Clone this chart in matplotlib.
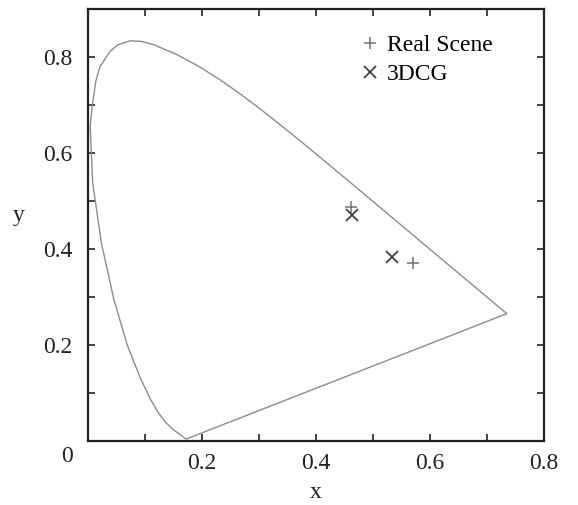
import numpy as np
import matplotlib
matplotlib.use("Agg")
import matplotlib.pyplot as plt
from matplotlib.ticker import MultipleLocator, FuncFormatter

# =========================
# Data: CIE 1931 spectral locus (380-700 nm) + closing purple line
# (a few extra points read off the picture near the peak)
# =========================
locus_x = [0.1741, 0.1740, 0.1738, 0.1736, 0.1733, 0.1730, 0.1726, 0.1721,
           0.1714, 0.1703, 0.1689, 0.1669, 0.1644, 0.1611, 0.1566, 0.1510,
           0.1440, 0.1355, 0.1241, 0.1096, 0.0913, 0.0687, 0.0454, 0.0235,
           0.0082, 0.0039, 0.0076, 0.0139, 0.0210, 0.0389, 0.0530, 0.0743,
           0.0940, 0.1142, 0.1547, 0.1929,
           0.2296, 0.2658, 0.3016, 0.3373, 0.3731, 0.4087, 0.4441, 0.4788,
           0.5125, 0.5448, 0.5752, 0.6029, 0.6270, 0.6482, 0.6658, 0.6801,
           0.6915, 0.7006, 0.7079, 0.7140, 0.7190, 0.7230, 0.7260, 0.7283,
           0.7300, 0.7311, 0.7320, 0.7327, 0.7334, 0.7347, 0.1741]
locus_y = [0.0050, 0.0050, 0.0049, 0.0049, 0.0048, 0.0048, 0.0048, 0.0048,
           0.0051, 0.0058, 0.0069, 0.0086, 0.0109, 0.0138, 0.0177, 0.0227,
           0.0297, 0.0399, 0.0578, 0.0868, 0.1327, 0.2007, 0.2950, 0.4127,
           0.5384, 0.6548, 0.7000, 0.7502, 0.7800, 0.8120, 0.8260, 0.8338,
           0.8325, 0.8262, 0.8059, 0.7816,
           0.7543, 0.7243, 0.6923, 0.6589, 0.6245, 0.5896, 0.5547, 0.5202,
           0.4866, 0.4544, 0.4242, 0.3965, 0.3725, 0.3514, 0.3340, 0.3197,
           0.3083, 0.2993, 0.2920, 0.2859, 0.2809, 0.2770, 0.2740, 0.2717,
           0.2700, 0.2689, 0.2680, 0.2673, 0.2666, 0.2653, 0.0050]

real_x = [0.461, 0.570]
real_y = [0.488, 0.371]
cg_x = [0.464, 0.533]
cg_y = [0.471, 0.383]

# =========================
# Plot
# =========================
FS = 17
plt.rcParams['font.family'] = ['Liberation Serif', 'DejaVu Serif']
plt.rcParams['font.size'] = FS

fig = plt.figure(figsize=(5.78, 5.05), dpi=100)
ax = fig.add_axes([0.1522, 0.1267, 0.789, 0.8554])

ax.plot(locus_x, locus_y, color='#8c8c8c', lw=1.0)
ax.plot(real_x, real_y, ls='none', marker='+', ms=9, mew=1.1,
        color='#707070', label='Real Scene')
ax.plot(cg_x, cg_y, ls='none', marker='x', ms=8, mew=1.3,
        color='#404040', label='3DCG')

ax.set_xlim(0, 0.8)
ax.set_ylim(0, 0.9)

ax.xaxis.set_major_locator(MultipleLocator(0.1))
ax.yaxis.set_major_locator(MultipleLocator(0.1))
lab = lambda v, p: ('%.1f' % v) if (round(v * 10) % 2 == 0 and v > 0.05) else ''
ax.xaxis.set_major_formatter(FuncFormatter(lab))
ax.yaxis.set_major_formatter(FuncFormatter(lab))
ax.tick_params(direction='in', length=5, width=1.2, top=True, right=True,
               labelsize=FS, color='#222222', labelcolor='#222222')
ax.tick_params(axis='x', pad=8.5)
ax.tick_params(axis='y', pad=11)
for s in ax.spines.values():
    s.set_linewidth(1.6)
    s.set_color('#222222')

ax.text(-0.045, -0.035, '0', transform=ax.transAxes, ha='center', va='center',
        fontsize=FS, color='#222222')

ax.set_xlabel('x', fontsize=FS, labelpad=6, color='#222222')
ax.set_ylabel('y', fontsize=FS, rotation=0, va='center', color='#222222')
ax.yaxis.set_label_coords(-0.153, 0.523)

ax.legend(loc='upper left', bbox_to_anchor=(0.598, 0.940), frameon=False,
          handlelength=0.8, handletextpad=0.3, labelspacing=0.29,
          borderaxespad=0, borderpad=0, fontsize=FS)

fig.savefig('out.png', dpi=100)
